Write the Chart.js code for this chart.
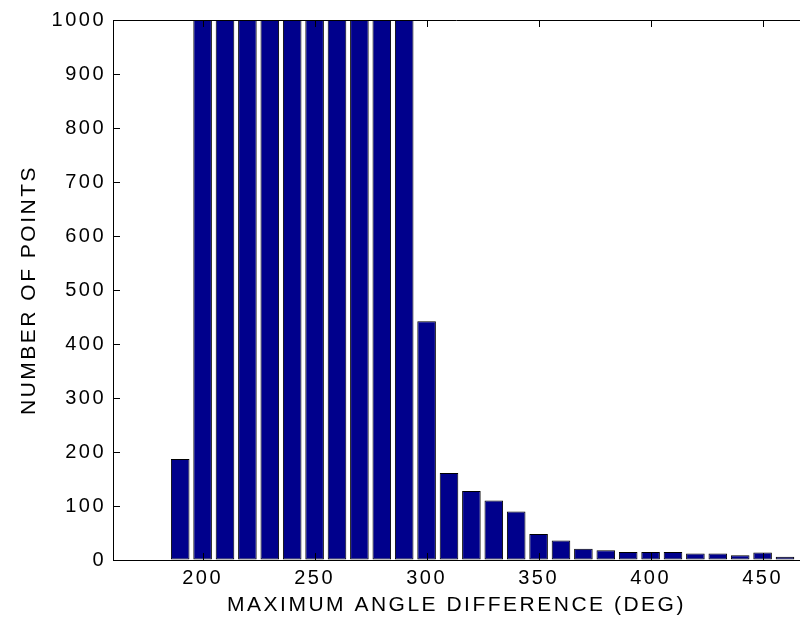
<!DOCTYPE html>
<html>
<head>
<meta charset="utf-8">
<script src="https://cdn.jsdelivr.net/npm/chart.js@4.4.1/dist/chart.umd.min.js"></script>
<style>
  html, body { margin: 0; padding: 0; background: #ffffff; overflow: hidden; }
  canvas { display: block; }
</style>
</head>
<body>
<canvas id="histChart" width="800" height="626"></canvas>
<script>
// bin centres (deg) and counts
const binCenters = [190, 200, 210, 220, 230, 240, 250, 260, 270, 280, 290,
                    300, 310, 320, 330, 340, 350, 360, 370, 380, 390,
                    400, 410, 420, 430, 440, 450, 460];
// bars 200..290 run off the top of the axes (clipped at 1000)
const binCounts = [187, 1500, 2300, 2900, 3300, 3400, 3200, 2800, 2200, 1700, 1200,
                   442, 161, 128, 110, 90, 48, 36, 21, 18, 15,
                   15, 15, 12, 12, 9, 14, 6];
const xTickLabels = [200, 250, 300, 350, 400, 450];
const yTickLabels = [0, 100, 200, 300, 400, 500, 600, 700, 800, 900, 1000];

const xMin = 160;
const xMax = 466.7;
const tickLen = 7;

// MATLAB style frame: top edge plus inward tick marks
const matlabFrame = {
    id: 'matlabFrame',
    beforeDraw: function (chart) {
        chart.ctx.letterSpacing = '2.5px';
    },
    afterDraw: function (chart) {
        const ctx = chart.ctx;
        const area = chart.chartArea;
        const xs = chart.scales.x;
        const ys = chart.scales.y;
        ctx.save();
        ctx.strokeStyle = '#000000';
        ctx.lineWidth = 1;
        ctx.beginPath();
        // top edge
        ctx.moveTo(area.left, Math.round(area.top) + 0.5);
        ctx.lineTo(area.right, Math.round(area.top) + 0.5);
        // x ticks (bottom and top)
        xTickLabels.forEach(function (v) {
            const px = Math.round(xs.getPixelForValue(v)) + 0.5;
            ctx.moveTo(px, area.bottom);
            ctx.lineTo(px, area.bottom - tickLen);
            ctx.moveTo(px, area.top);
            ctx.lineTo(px, area.top + tickLen);
        });
        // y ticks (left)
        yTickLabels.forEach(function (v) {
            const py = Math.round(ys.getPixelForValue(v)) + 0.5;
            ctx.moveTo(area.left, py);
            ctx.lineTo(area.left + tickLen, py);
        });
        ctx.stroke();
        ctx.restore();
    }
};

const canvas = document.getElementById('histChart');
new Chart(canvas.getContext('2d'), {
    type: 'bar',
    data: {
        datasets: [{
            data: binCenters.map(function (c, i) { return { x: c, y: binCounts[i] }; }),
            backgroundColor: 'rgb(0, 0, 140)',
            borderColor: '#000000',
            borderWidth: 1,
            borderSkipped: false,
            barPercentage: 0.83,
            categoryPercentage: 1.0
        }]
    },
    options: {
        responsive: false,
        animation: false,
        layout: { padding: { top: 20, left: 0, right: 0, bottom: 0 } },
        plugins: {
            legend: { display: false },
            tooltip: { enabled: false }
        },
        scales: {
            x: {
                type: 'linear',
                min: xMin,
                max: xMax,
                offset: false,
                grid: { display: true, drawOnChartArea: false, drawTicks: false, offset: false },
                border: { display: true, color: '#000000', width: 1 },
                afterBuildTicks: function (scale) {
                    scale.ticks = xTickLabels.map(function (v) { return { value: v }; });
                },
                afterFit: function (scale) { scale.height = 66; },
                ticks: {
                    color: '#000000',
                    padding: 6,
                    maxRotation: 0,
                    callback: function (v) { return String(v); },
                    font: { family: 'Liberation Sans, Arial, sans-serif', size: 20 }
                },
                title: {
                    display: true,
                    text: 'MAXIMUM ANGLE DIFFERENCE (DEG)',
                    color: '#000000',
                    padding: { top: 0, bottom: 8 },
                    font: { family: 'Liberation Sans, Arial, sans-serif', size: 21 }
                }
            },
            y: {
                min: 0,
                max: 1000,
                grid: { display: true, drawOnChartArea: false, drawTicks: false },
                border: { display: true, color: '#000000', width: 1 },
                afterBuildTicks: function (scale) {
                    scale.ticks = yTickLabels.map(function (v) { return { value: v }; });
                },
                afterFit: function (scale) { scale.width = 113; },
                ticks: {
                    color: '#000000',
                    padding: 7,
                    callback: function (v) { return String(v); },
                    font: { family: 'Liberation Sans, Arial, sans-serif', size: 20 }
                },
                title: {
                    display: true,
                    text: 'NUMBER OF POINTS',
                    color: '#000000',
                    padding: { top: 17, bottom: 0 },
                    font: { family: 'Liberation Sans, Arial, sans-serif', size: 21 }
                }
            }
        }
    },
    plugins: [matlabFrame]
});
</script>
</body>
</html>
